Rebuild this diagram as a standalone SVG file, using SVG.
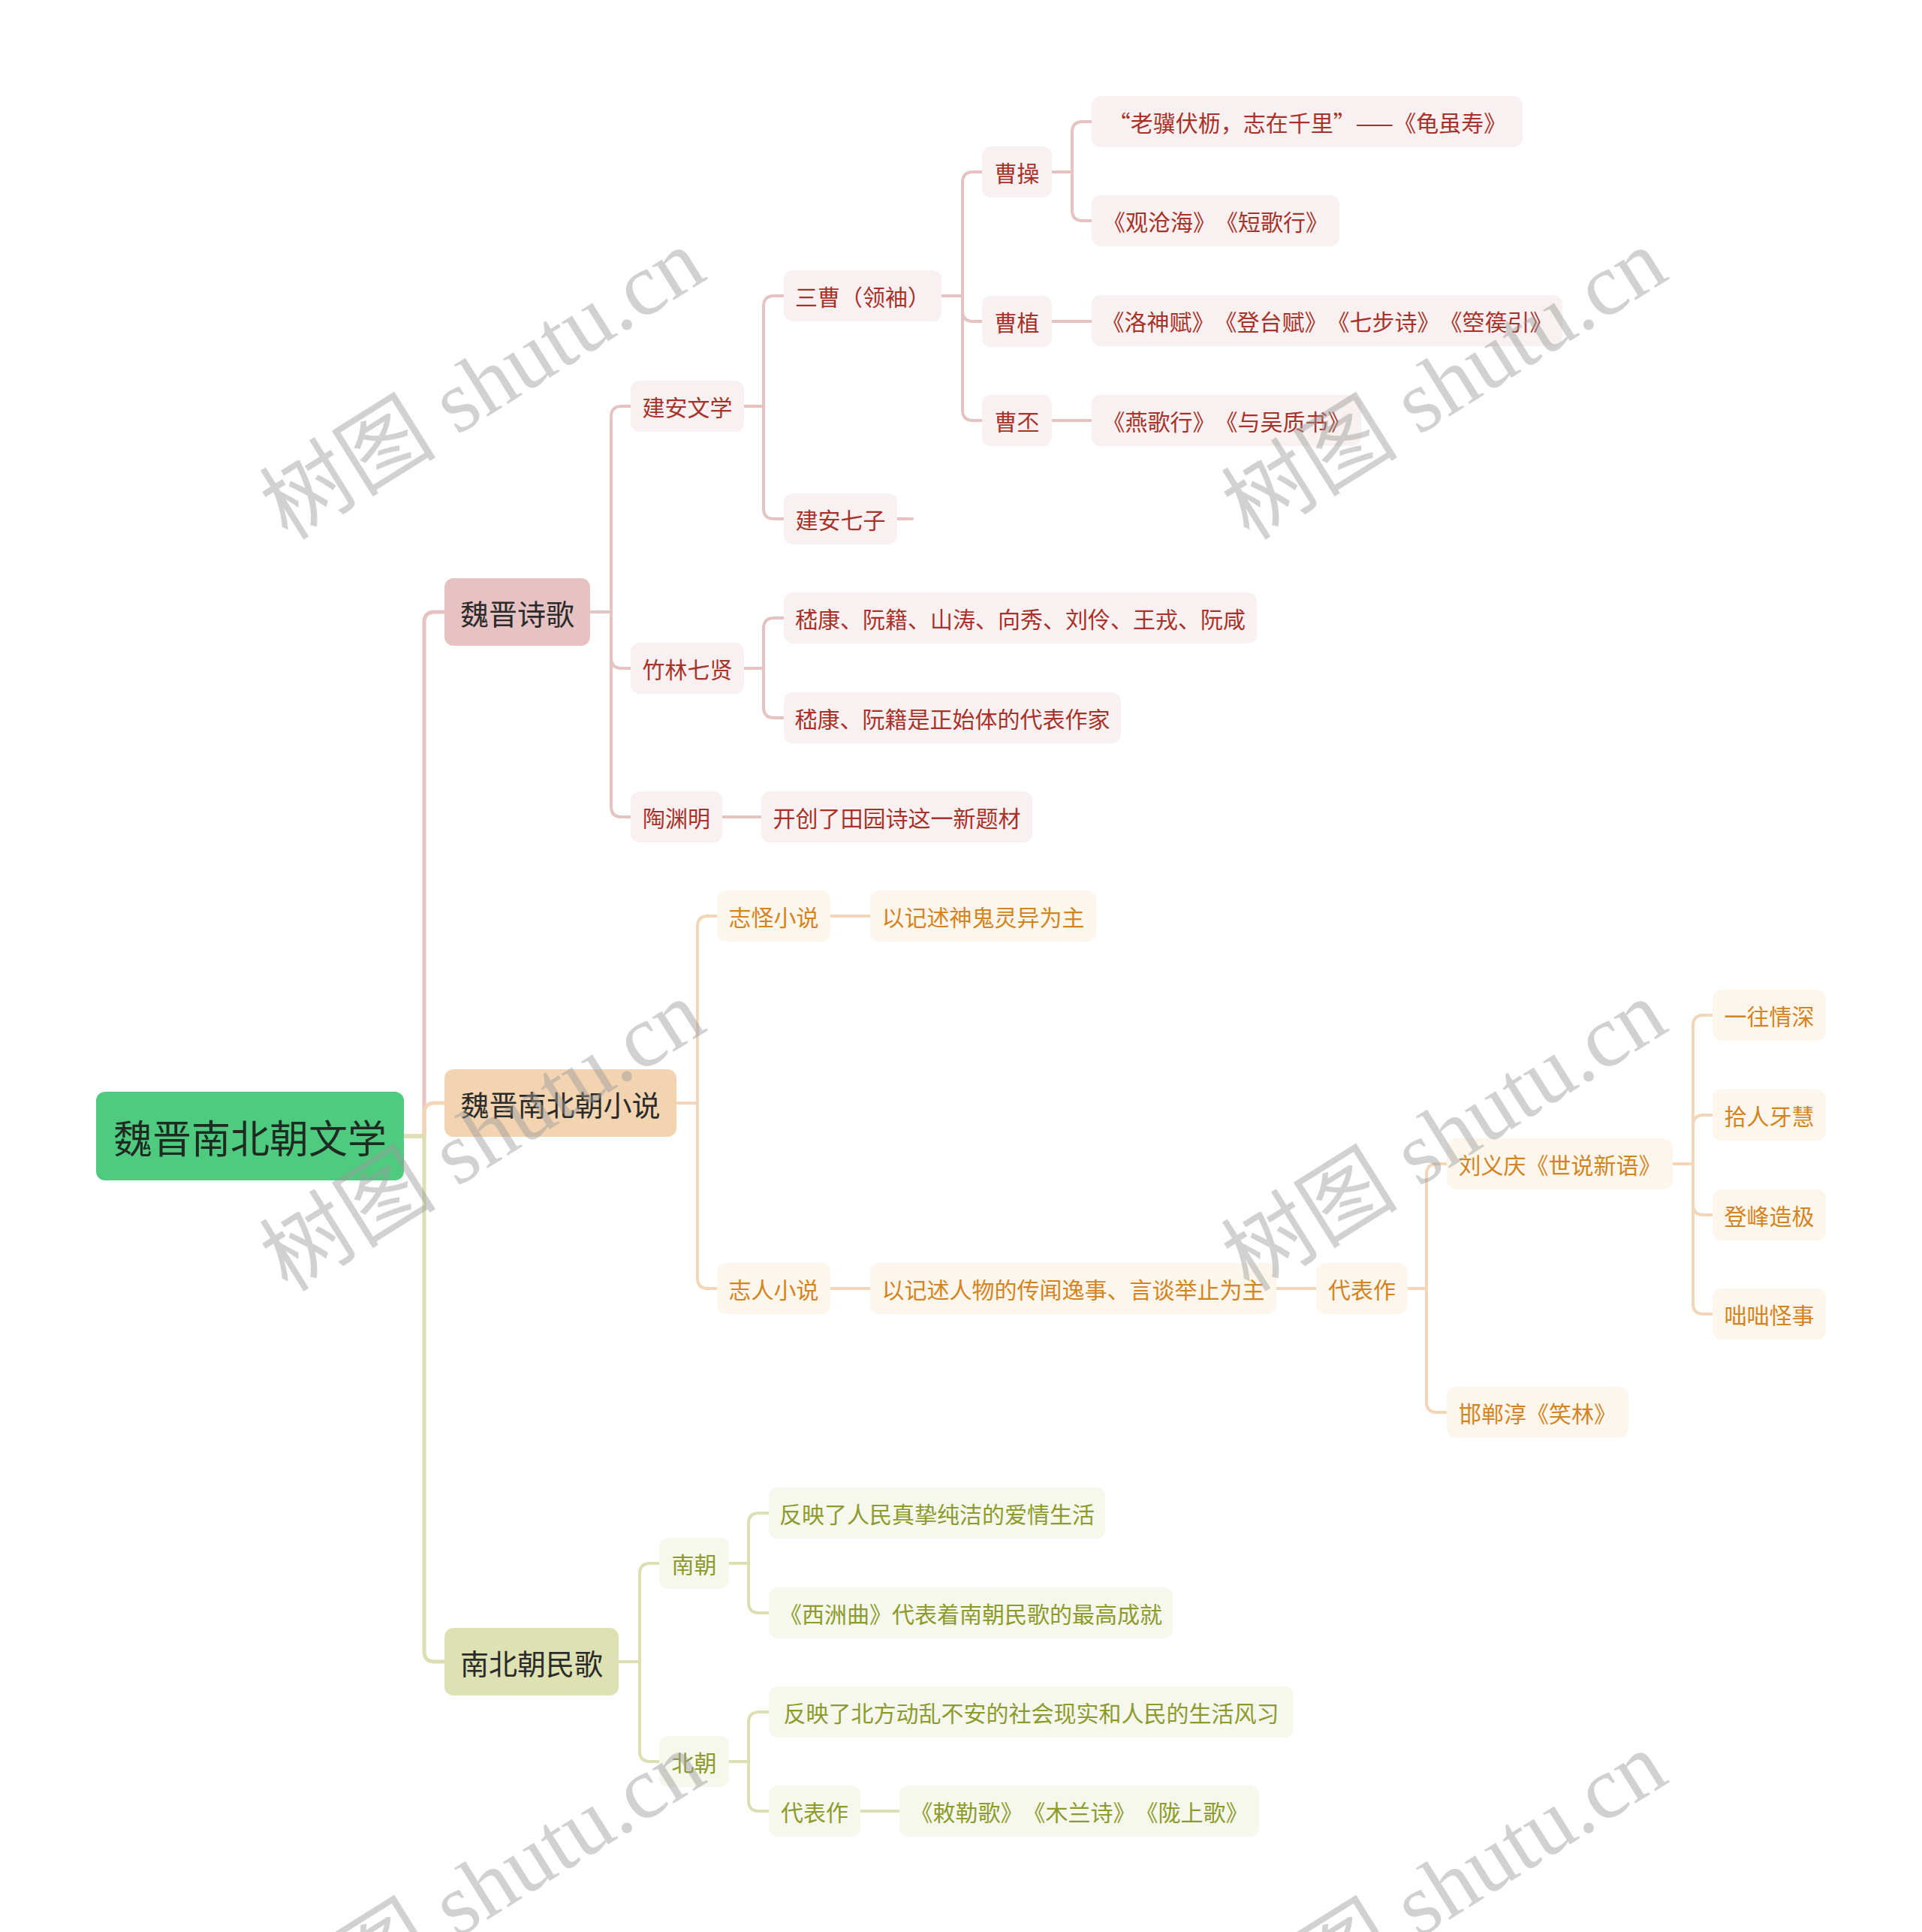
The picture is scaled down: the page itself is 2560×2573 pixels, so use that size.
<svg xmlns="http://www.w3.org/2000/svg" width="2560" height="2573" viewBox="0 0 2560 2573">
<style>
text{font-family:"Noto Sans CJK SC","Noto Sans",sans-serif;text-anchor:middle;dominant-baseline:central;text-spacing-trim:space-all}
.c{fill:none;stroke-width:4;stroke-linecap:round;stroke-linejoin:round}
.c0{stroke-width:5}
.cr{stroke:#E6C3C3}.co{stroke:#F2D6B7}.cg{stroke:#DCDFB3}
.nr rect{fill:#F9F1F1}.nr text{fill:#A8322A;font-size:30px}
.no rect{fill:#FDF6ED}.no text{fill:#D4841E;font-size:30px}
.ng rect{fill:#F6F7ED}.ng text{fill:#8C9B2C;font-size:30px}
.l1 text{fill:#2b2b2b;font-size:38px}
.wm{font-family:"Liberation Serif","Noto Sans CJK SC",serif;font-size:118px;fill:#9a9a9a;opacity:0.45}
</style>
<rect width="2560" height="2573" fill="#ffffff"/>
<g id="connectors">
<path class="c c0 cr" d="M538,1513 H565 V829 Q565,815 579,815 H592"/>
<path class="c c0 co" d="M538,1513 H565 V1483 Q565,1469 579,1469 H592"/>
<path class="c c0 cg" d="M538,1513 H565 V2199 Q565,2213 579,2213 H592"/>
<path class="c cr" d="M786,815 H814 V555 Q814,541 828,541 H840"/>
<path class="c cr" d="M786,815 H814 V876 Q814,890 828,890 H840"/>
<path class="c cr" d="M786,815 H814 V1074 Q814,1088 828,1088 H840"/>
<path class="c cr" d="M991,541 H1017 V408 Q1017,394 1031,394 H1044"/>
<path class="c cr" d="M991,541 H1017 V677 Q1017,691 1031,691 H1044"/>
<path class="c cr" d="M1254,394 H1282 V243 Q1282,229 1296,229 H1308"/>
<path class="c cr" d="M1254,394 H1282 V414 Q1282,428 1296,428 H1308"/>
<path class="c cr" d="M1254,394 H1282 V546 Q1282,560 1296,560 H1308"/>
<path class="c cr" d="M1401,229 H1428 V176 Q1428,162 1442,162 H1454"/>
<path class="c cr" d="M1401,229 H1428 V280 Q1428,294 1442,294 H1454"/>
<path class="c cr" d="M1401,428 H1454"/>
<path class="c cr" d="M1401,560 H1454"/>
<path class="c cr" d="M1195,691 H1215"/>
<path class="c cr" d="M991,890 H1017 V837 Q1017,823 1031,823 H1044"/>
<path class="c cr" d="M991,890 H1017 V942 Q1017,956 1031,956 H1044"/>
<path class="c cr" d="M962,1088 H1014"/>
<path class="c co" d="M901,1469 H929 V1234 Q929,1220 943,1220 H955"/>
<path class="c co" d="M901,1469 H929 V1702 Q929,1716 943,1716 H955"/>
<path class="c co" d="M1106,1220 H1159"/>
<path class="c co" d="M1106,1716 H1159"/>
<path class="c co" d="M1700,1716 H1753"/>
<path class="c co" d="M1874,1716 H1900 V1564 Q1900,1550 1914,1550 H1927"/>
<path class="c co" d="M1874,1716 H1900 V1867 Q1900,1881 1914,1881 H1927"/>
<path class="c co" d="M2228,1550 H2255 V1366 Q2255,1352 2269,1352 H2281"/>
<path class="c co" d="M2228,1550 H2255 V1499 Q2255,1485 2269,1485 H2281"/>
<path class="c co" d="M2228,1550 H2255 V1604 Q2255,1618 2269,1618 H2281"/>
<path class="c co" d="M2228,1550 H2255 V1736 Q2255,1750 2269,1750 H2281"/>
<path class="c cg" d="M824,2213 H852 V2096 Q852,2082 866,2082 H878"/>
<path class="c cg" d="M824,2213 H852 V2332 Q852,2346 866,2346 H878"/>
<path class="c cg" d="M970,2082 H997 V2029 Q997,2015 1011,2015 H1024"/>
<path class="c cg" d="M970,2082 H997 V2134 Q997,2148 1011,2148 H1024"/>
<path class="c cg" d="M970,2346 H997 V2294 Q997,2280 1011,2280 H1024"/>
<path class="c cg" d="M970,2346 H997 V2398 Q997,2412 1011,2412 H1024"/>
<path class="c cg" d="M1144,2412 H1198"/>
</g>
<g id="root"><rect x="128" y="1454" width="410" height="118" rx="12" fill="#4FCB80"/><text x="333" y="1513" font-size="52" fill="#1e2a22">魏晋南北朝文学</text></g>
<g id="n-shige" class="l1"><rect x="592" y="770" width="194" height="90" rx="12" fill="#E7C2C2"/><text x="689" y="815">魏晋诗歌</text></g>
<g id="n-xiaoshuo" class="l1"><rect x="592" y="1424" width="309" height="90" rx="12" fill="#F3D4B1"/><text x="746.5" y="1469">魏晋南北朝小说</text></g>
<g id="n-minge" class="l1"><rect x="592" y="2168" width="232" height="90" rx="12" fill="#DEE1B2"/><text x="708" y="2213">南北朝民歌</text></g>

<g id="n-jianan" class="nr"><rect x="840" y="507" width="151" height="68" rx="12"/><text x="915.5" y="541">建安文学</text></g>
<g id="n-zhulin" class="nr"><rect x="840" y="856" width="151" height="68" rx="12"/><text x="915.5" y="890">竹林七贤</text></g>
<g id="n-tao" class="nr"><rect x="840" y="1054" width="122" height="68" rx="12"/><text x="901" y="1088">陶渊明</text></g>
<g id="n-sancao" class="nr"><rect x="1044" y="360" width="210" height="68" rx="12"/><text x="1149" y="394">三曹（领袖）</text></g>
<g id="n-qizi" class="nr"><rect x="1044" y="657" width="151" height="68" rx="12"/><text x="1119.5" y="691">建安七子</text></g>
<g id="n-caocao" class="nr"><rect x="1308" y="195" width="93" height="68" rx="12"/><text x="1354.5" y="229">曹操</text></g>
<g id="n-caozhi" class="nr"><rect x="1308" y="394" width="93" height="68" rx="12"/><text x="1354.5" y="428">曹植</text></g>
<g id="n-caopi" class="nr"><rect x="1308" y="526" width="93" height="68" rx="12"/><text x="1354.5" y="560">曹丕</text></g>
<g id="n-guisui" class="nr"><rect x="1454" y="128" width="574" height="68" rx="12"/><text x="1741" y="162">“老骥伏枥，志在千里”——《龟虽寿》</text></g>
<g id="n-guancang" class="nr"><rect x="1454" y="260" width="330" height="68" rx="12"/><text x="1619" y="294">《观沧海》《短歌行》</text></g>
<g id="n-luoshen" class="nr"><rect x="1454" y="393" width="627" height="68" rx="12"/><text x="1767.5" y="427">《洛神赋》《登台赋》《七步诗》《箜篌引》</text></g>
<g id="n-yange" class="nr"><rect x="1454" y="526" width="359" height="68" rx="12"/><text x="1633.5" y="560">《燕歌行》《与吴质书》</text></g>
<g id="n-qixian" class="nr"><rect x="1044" y="789" width="630" height="68" rx="12"/><text x="1359" y="823">嵇康、阮籍、山涛、向秀、刘伶、王戎、阮咸</text></g>
<g id="n-zhengshi" class="nr"><rect x="1044" y="922" width="449" height="68" rx="12"/><text x="1268.5" y="956">嵇康、阮籍是正始体的代表作家</text></g>
<g id="n-tianyuan" class="nr"><rect x="1014" y="1054" width="361" height="68" rx="12"/><text x="1194.5" y="1088">开创了田园诗这一新题材</text></g>

<g id="n-zhiguai" class="no"><rect x="955" y="1186" width="151" height="68" rx="12"/><text x="1030.5" y="1220">志怪小说</text></g>
<g id="n-zhiren" class="no"><rect x="955" y="1682" width="151" height="68" rx="12"/><text x="1030.5" y="1716">志人小说</text></g>
<g id="n-shengui" class="no"><rect x="1159" y="1186" width="301" height="68" rx="12"/><text x="1309.5" y="1220">以记述神鬼灵异为主</text></g>
<g id="n-renwu" class="no"><rect x="1159" y="1682" width="541" height="68" rx="12"/><text x="1429.5" y="1716">以记述人物的传闻逸事、言谈举止为主</text></g>
<g id="n-daibiao1" class="no"><rect x="1753" y="1682" width="122" height="68" rx="12"/><text x="1814" y="1716">代表作</text></g>
<g id="n-shishuo" class="no"><rect x="1927" y="1516" width="301" height="68" rx="12"/><text x="2077.5" y="1550">刘义庆《世说新语》</text></g>
<g id="n-xiaolin" class="no"><rect x="1927" y="1847" width="242" height="68" rx="12"/><text x="2048" y="1881">邯郸淳《笑林》</text></g>
<g id="n-yiwang" class="no"><rect x="2281" y="1318" width="151" height="68" rx="12"/><text x="2356.5" y="1352">一往情深</text></g>
<g id="n-shiren" class="no"><rect x="2281" y="1451" width="151" height="68" rx="12"/><text x="2356.5" y="1485">拾人牙慧</text></g>
<g id="n-dengfeng" class="no"><rect x="2281" y="1584" width="151" height="68" rx="12"/><text x="2356.5" y="1618">登峰造极</text></g>
<g id="n-duoduo" class="no"><rect x="2281" y="1716" width="151" height="68" rx="12"/><text x="2356.5" y="1750">咄咄怪事</text></g>

<g id="n-nanchao" class="ng"><rect x="878" y="2048" width="93" height="68" rx="12"/><text x="924.5" y="2082">南朝</text></g>
<g id="n-beichao" class="ng"><rect x="878" y="2312" width="93" height="68" rx="12"/><text x="924.5" y="2346">北朝</text></g>
<g id="n-aiqing" class="ng"><rect x="1024" y="1981" width="448" height="68" rx="12"/><text x="1248" y="2015">反映了人民真挚纯洁的爱情生活</text></g>
<g id="n-xizhou" class="ng"><rect x="1024" y="2114" width="538" height="68" rx="12"/><text x="1293" y="2148">《西洲曲》代表着南朝民歌的最高成就</text></g>
<g id="n-dongluan" class="ng"><rect x="1024" y="2246" width="699" height="68" rx="12"/><text x="1373.5" y="2280">反映了北方动乱不安的社会现实和人民的生活风习</text></g>
<g id="n-daibiao2" class="ng"><rect x="1024" y="2378" width="122" height="68" rx="12"/><text x="1085" y="2412">代表作</text></g>
<g id="n-chile" class="ng"><rect x="1198" y="2378" width="479" height="68" rx="12"/><text x="1437.5" y="2412">《敕勒歌》《木兰诗》《陇上歌》</text></g>

<g id="watermarks">
<text class="wm" transform="translate(643,512) rotate(-32)">树图 shutu.cn</text>
<text class="wm" transform="translate(1924,512) rotate(-32)">树图 shutu.cn</text>
<text class="wm" transform="translate(643,1513) rotate(-32)">树图 shutu.cn</text>
<text class="wm" transform="translate(1924,1513) rotate(-32)">树图 shutu.cn</text>
<text class="wm" transform="translate(643,2514) rotate(-32)">树图 shutu.cn</text>
<text class="wm" transform="translate(1924,2514) rotate(-32)">树图 shutu.cn</text>
</g>
</svg>
